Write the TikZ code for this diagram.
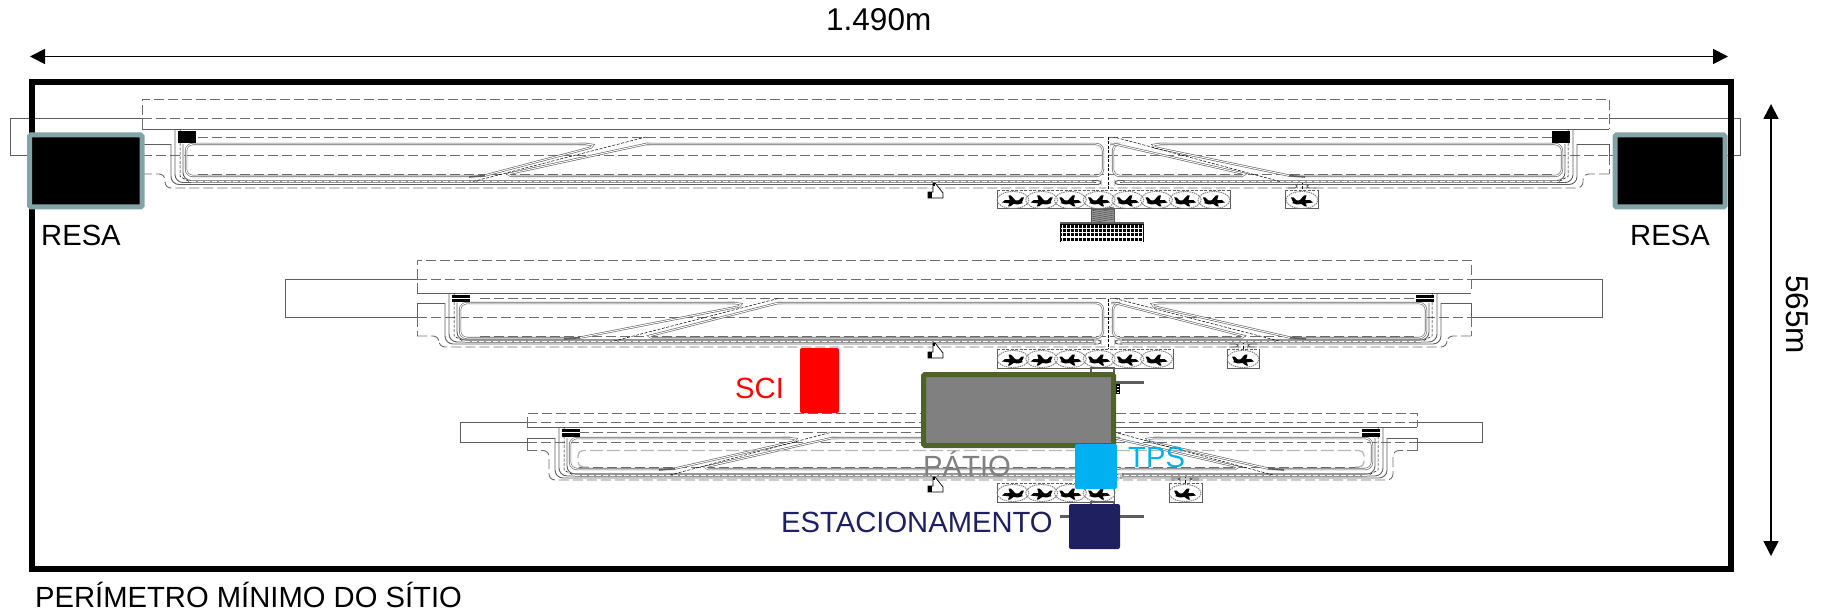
\documentclass[tikz,border=0pt]{standalone}
\usepackage{fontspec}
\setmainfont{Liberation Sans}
\usetikzlibrary{arrows.meta}
\definecolor{lin}{HTML}{5E5E5E}
\definecolor{dsh}{HTML}{6E6E6E}
\definecolor{resa}{HTML}{84A3A6}
\definecolor{patioedge}{HTML}{4F6228}
\definecolor{patiofill}{HTML}{808080}
\definecolor{tpsblue}{HTML}{00B0F0}
\definecolor{navy}{HTML}{1F2060}
\tikzset{
 x=1bp,y=-1bp,
 solidl/.style={draw=lin,line width=.9bp},
 dashl/.style={draw=dsh,line width=.9bp,dash pattern=on 10bp off 4bp},
 thind/.style={draw=black,line width=.5bp,dash pattern=on 3bp off 1.5bp},
 lane/.style={draw=lin,line width=.6bp,double=white,double distance=1bp},
 band/.style={draw=lin!65,line width=3.6bp},
 bandc/.style={draw=white,line width=.7bp,dash pattern=on 5bp off 2bp},
 lbl/.style={anchor=base west,inner sep=0pt,font=\fontsize{29.2bp}{30bp}\selectfont},
 lblb/.style={anchor=base west,inner sep=0pt,font=\fontsize{31.5bp}{32bp}\selectfont},
 dimarrow/.style={draw=black,line width=1.7bp,{Triangle[length=15bp,width=15bp]}-{Triangle[length=15bp,width=15bp]}},
 zone/.style={line width=5bp,rounded corners=1.5bp},
 box/.style={rounded corners=2bp}
}
% half of a runway system, local x measured from the parallel taxiway to the centre
% #1 taxiway x, #2 direction, #3 centre distance, #4 tip of exit 1, #5 strip distance, \dxE, \dxF, \tipgap
\newcommand\halfsys[5]{%
\begin{scope}[shift={(#1,0)},xscale=#2]
\pgfmathsetmacro\exB{#4-\tipgap}
\pgfmathsetmacro\exF{min(\exB+\dxF,#3-6)}
\pgfmathsetmacro\exE{#4-\dxE}
\draw[solidl] (-#5,\yE) -- (-4,\yE);
\draw[solidl,rounded corners=8bp] (-4,\yE) -- (-4,\yB+3) -- (#3-12,\yB+3);
\draw[solidl,rounded corners=8bp] (0,\yC) -- (0,\yB+1) -- (#3-12,\yB+1);
\draw[thind] (5,\yC) -- (5,\yB-5) -- (14,\yB);
\draw[solidl,rounded corners=8bp] (8,\yE) -- (8,\yB-1) -- (20,\yB-1);
\draw[band] (16,\yB) -- (#3-14,\yB);
\draw[bandc] (16,\yB) -- (#3-14,\yB);
\draw[lane,rounded corners=7bp] (#4-6,\yE) -- (11,\yE) -- (11,\yD+2) -- (\exE-50,\yD+2);
\draw[lane] (\exE-52,\yD+2) -- (\exE,\yD+2) -- (#4-2,\yE+3.5) -- (#4,\yE+1) -- (#4-7,\yE) -- (#4-14,\yE);
\draw[lin,line width=1.6bp] (\exE-14,\yD+3) -- (\exE+2,\yD+1.6);
\draw[lane,rounded corners=7bp] (\exB+20,\yD+2) -- (#3-5,\yD+2) -- (#3-5,\yE) -- (\exF,\yE);
\draw[lane] (\exB+22,\yD+2) -- (\exB+3,\yD+2) -- (\exB,\yD) -- (\exF,\yE) -- (\exF+4,\yE);
\draw[thind] (\exB-35,\yB) -- (\exF,\yDa);
\draw[solidl,rounded corners=3bp] (#3-16,\yB-1) -- (#3-7,\yB-1) -- (#3-7,\yB+3) -- (#3-14,\yB+3);
\fill[black] (3,\yC+2) rectangle (21,\yE-1);
\draw[\wl,line width=.6bp] (3,\yDa) -- (21,\yDa);
\draw[dashl,rounded corners=6bp] (-#5,\yS) -- (-10,\yS) -- (-10,\yBot) -- (#3-2,\yBot);
\end{scope}}
% the long lines of a runway system
\newcommand\syslines[8]{%
\draw[solidl] (#3,\yRa) -- (#1,\yRa) -- (#1,\yRb) -- (#3,\yRb);
\draw[solidl] (#4,\yRa) -- (#2,\yRa) -- (#2,\yRb) -- (#4,\yRb);
\draw[dashl] (#3,\yRa) -- (#4,\yRa);
\draw[dashl] (#3,\yRb) -- (#4,\yRb);
\draw[dashl] (#3,\yC) -- (#3,\yTop) -- (#4,\yTop) -- (#4,\yC);
\draw[dashl] (#3,\yRb) -- (#3,\yS);
\draw[dashl] (#4,\yRb) -- (#4,\yS);
\draw[solidl] (#3,\yC) -- (#4,\yC);
\draw[solidl] (#3,\yE) -- (#3,\yRb);
\draw[solidl] (#4,\yE) -- (#4,\yRb);
\draw[dashl] (#5+20,\yDa) -- (#6-20,\yDa);
\draw[dashl] (#5+20,\yD) -- (#6-20,\yD);
\draw[thind] (1108,\yDa) -- (1108,#7);
\draw[thind] (#8,\yB) -- (#8,#7);
\fill[white] (#8-6,\yB+2) rectangle (#8-1,\yBot+1);
\fill[white] (#8+1,\yB+2) rectangle (#8+6,\yBot+1);
\draw[solidl,rounded corners=2.5bp] (#8-14,\yB+3) -- (#8-5,\yB+3) -- (#8-5,\yBot) -- (#8-14,\yBot);
\draw[solidl,rounded corners=2.5bp] (#8+14,\yB+3) -- (#8+5,\yB+3) -- (#8+5,\yBot) -- (#8+14,\yBot);
}
\newcommand\plane[3]{%
\begin{scope}[shift={(#1,#2)},xscale=#3]
\draw[draw=lin!80,line width=.9bp,dash pattern=on 1.5bp off .8bp] (0,0) ellipse [x radius=16bp,y radius=8.5bp];
\fill[black] (-10,3) -- (-6,.5) -- (8,0) -- (11,2.5) -- (-5,4.5) -- cycle;
\fill[black] (-3,1) -- (2,-4.5) -- (4.5,-4.5) -- (3,1) -- cycle;
\fill[black] (-2,3) -- (3,6.5) -- (5,6.5) -- (3,2) -- cycle;
\fill[black] (-9,2) -- (-11,-2.5) -- (-8.5,-2.5) -- (-5,1) -- cycle;
\end{scope}}
\newcommand\apron[4]{% x0,x1,y0,y1
\draw[draw=lin,line width=1bp,fill=white] (#1,#3) -- (#1,#4) -- (#2,#4) -- (#2,#3);
\draw[draw=lin,line width=.7bp,dash pattern=on 3bp off 1.5bp] (#1,#3) -- (#2,#3);
}
\newcommand\term[1]{%
\draw[draw=black,line width=.7bp,fill=white] (933,#1) -- (935,#1) -- (943,#1+10) -- (943,#1+15) -- (928,#1+15) -- (928,#1+9) -- (933,#1+9) -- cycle;
\fill[black] (933,#1) rectangle (935,#1+3);
\fill[black] (928,#1+9) rectangle (932,#1+15);
}
\newcommand\setys[9]{\def\yTop{#1}\def\yRa{#2}\def\yRb{#3}\def\yC{#4}\def\yDa{#5}\def\yE{#6}\def\yD{#7}\def\yB{#8}\def\yBot{#9}}
\begin{document}
\begin{tikzpicture}
\useasboundingbox (0,0) rectangle (1825,612);
% system 1
\def\wl{black}
\setys{99}{118}{155}{129.5}{137}{144}{174}{181.5}{188}\def\yS{174}
\syslines{10}{1740}{142}{1609}{178}{1573}{190}{1302}
\def\tipgap{85}\def\dxF{138}\def\dxE{110}
\halfsys{175}{1}{933}{418}{33}
\def\tipgap{92}\def\dxE{138}
\halfsys{1573}{-1}{465}{420}{36}
\apron{997}{1230}{190}{209}
\apron{1285}{1318}{190}{209}
\foreach \i in {0,1} {\plane{1013+28.7*\i}{200}{-1}}
\foreach \i in {2,...,7} {\plane{1013+28.7*\i}{200}{1}}
\plane{1302}{200}{1}
\term{183}
\draw[draw=lin,fill=lin!60,line width=.7bp] (1091,209) rectangle (1114,222);
\foreach \i in {0,...,6} {\draw[lin,line width=.8bp] (1091,{211+2*\i}) -- (1114,{207+2*\i});}
\fill[black] (1060,222) rectangle (1144,242);
\draw[lin,line width=2.4bp] (1060,223) -- (1144,223);
\foreach \i in {0,...,3} {\draw[white,line width=1.1bp] (1061,{228.2+4.4*\i}) -- (1143,{228.2+4.4*\i});}
\foreach \i in {0,...,20} {\draw[white,line width=1bp] ({1062+4*\i},225) -- ({1062+4*\i},242);}
% system 2
\def\wl{white}
\setys{260}{279.5}{317}{293}{298.5}{303}{336}{341}{347}\def\yS{336}
\syslines{285}{1602}{417}{1471}{460}{1437}{349}{1243}
\def\tipgap{92}\def\dxF{129}\def\dxE{163}
\halfsys{449}{1}{659}{292}{32}
\def\dxE{140}
\halfsys{1437}{-1}{329}{285}{34}
\apron{997}{1173}{349}{368}
\apron{1227}{1259}{349}{368}
\foreach \i in {0,1} {\plane{1013+28.7*\i}{359}{-1}}
\foreach \i in {2,...,5} {\plane{1013+28.7*\i}{359}{1}}
\plane{1243}{359}{1}
\term{343}
\draw[lin,line width=1.2bp] (1091,368) rectangle (1114,374);
\draw[lin,line width=3bp] (1116,382) -- (1144,382);
\fill[black] (1116,384) rectangle (1120,394);
\foreach \i in {0,1,2} {\fill[white] (1117,{386+3*\i}) rectangle (1119,{387.2+3*\i});}
% system 3
\setys{413.5}{422.5}{442.5}{427}{432}{438}{467}{475}{480}\def\yS{450.5}
\syslines{460}{1482}{527}{1417}{559}{1383}{483}{1185}
\def\tipgap{91}\def\dxF{127}\def\dxE{123}
\halfsys{559}{1}{549}{237}{32}
\halfsys{1383}{-1}{275}{236}{34}
\draw[draw=lin!45,line width=1.3bp,dash pattern=on 13bp off 4bp,rounded corners=5bp] (1355,467) -- (1364,467) -- (1364,450.5) -- (578,450.5) -- (578,467) -- (590,467);
\apron{997}{1114}{483}{502}
\apron{1169}{1202}{483}{502}
\foreach \i in {0,1} {\plane{1013+28.7*\i}{493}{-1}}
\foreach \i in {2,3} {\plane{1013+28.7*\i}{493}{1}}
\plane{1185}{493}{1}
\term{477}
\draw[lin,line width=3bp] (1060,516) -- (1144,516);
\draw[lin,line width=1.2bp] (1091,502) rectangle (1114,508);
% site perimeter and RESA
\draw[draw=black,line width=5.5bp] (32,82) rectangle (1731,569);
\draw[zone,draw=resa,fill=black] (29.5,135) rectangle (142,207);
\draw[zone,draw=resa,fill=black] (1615,135) rectangle (1725,207);
% facilities
\fill[red,box] (800,348) rectangle (839,413);
\draw[zone,draw=patioedge,fill=patiofill] (923.5,374.5) rectangle (1113.5,445.5);
\fill[tpsblue,box] (1075,444) rectangle (1117,489);
\fill[navy,box] (1069,504) rectangle (1120,549);
% labels
\node[lbl] (resaL) at (41,246) {RESA};
\node[lbl] (resaR) at (1630,246) {RESA};
\node[lbl,text=red] (sci) at (735,398) {SCI};
\node[lbl,text=tpsblue] (tps) at (1128,467) {TPS};
\node[lbl,text=patiofill] (patio) at (923,476) {PÁTIO};
\node[lbl,text=navy] (estac) at (781,532) {ESTACIONAMENTO};
\node[lbl] (perim) at (35,607) {PERÍMETRO MÍNIMO DO SÍTIO};
\node[lblb] (width) at (826,31) {1.490m};
\node[lblb,rotate=-90] (height) at (1786,275) {565m};
% dimension arrows
\coordinate (wa) at (30,56.5); \coordinate (wb) at (1728,56.5);
\coordinate (ha) at (1771,104); \coordinate (hb) at (1771,556);
\draw[dimarrow] (wa) -- (wb);
\draw[dimarrow] (ha) -- (hb);
\end{tikzpicture}
\end{document}
